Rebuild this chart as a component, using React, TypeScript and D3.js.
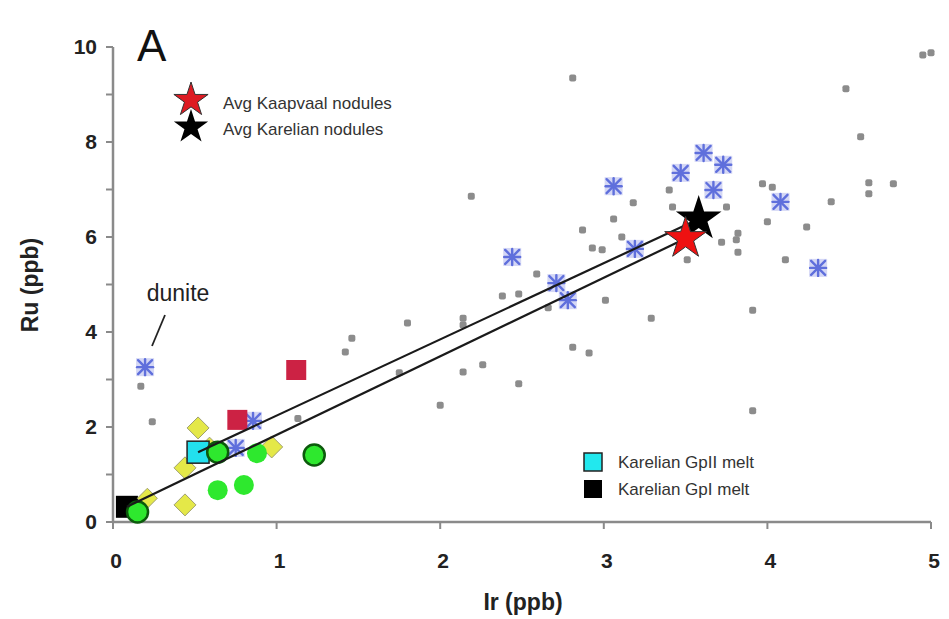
import React from "react";
import * as d3 from "d3";

const W = 949;
const H = 619;

const xTicks = [0, 1, 2, 3, 4, 5];
const yTicks = [0, 1, 2, 3, 4, 5, 6, 7, 8, 9, 10];
const yTickLabels = [0, 2, 4, 6, 8, 10];

const greyIr = [4.95, 5.0, 2.81, 4.48, 4.57, 4.77, 4.62, 4.62, 4.39, 4.24, 4.11, 3.91, 4.0, 3.97, 4.03, 3.82, 3.81, 3.82, 3.72, 3.75, 3.42, 3.40, 3.18, 3.06, 3.11, 2.87, 2.93, 2.99, 3.01, 3.29, 3.51, 2.19, 2.59, 2.38, 2.48, 2.66, 2.81, 2.91, 3.91, 1.80, 2.14, 2.14, 1.46, 1.42, 2.26, 2.14, 2.48, 1.75, 0.24, 0.17, 2.0, 1.13];
const greyRu = [9.83, 9.88, 9.35, 9.12, 8.11, 7.12, 7.14, 6.91, 6.74, 6.21, 5.52, 4.46, 6.32, 7.12, 7.05, 6.08, 5.94, 5.68, 5.89, 6.63, 6.63, 6.99, 6.72, 6.38, 6.0, 6.15, 5.77, 5.73, 4.67, 4.29, 5.52, 6.86, 5.22, 4.76, 4.80, 4.51, 3.68, 3.56, 2.34, 4.19, 4.29, 4.15, 3.87, 3.58, 3.31, 3.16, 2.91, 3.14, 2.11, 2.86, 2.46, 2.18];

const asteriskIr = [0.196, 0.856, 0.75, 2.44, 2.71, 2.78, 3.19, 3.06, 3.47, 3.61, 3.73, 3.67, 4.08, 4.31];
const asteriskRu = [3.26, 2.13, 1.56, 5.58, 5.03, 4.67, 5.75, 7.07, 7.35, 7.77, 7.52, 6.99, 6.74, 5.35];

const redSqIr = [1.12, 0.76];
const redSqRu = [3.2, 2.15];

const diamondIr = [0.52, 0.44, 0.21, 0.44, 0.97, 0.59];
const diamondRu = [1.98, 1.14, 0.5, 0.36, 1.58, 1.66];
const diamondSize = [22, 22, 20, 22, 22, 12];

const greenIr = [0.15, 0.64, 0.64, 0.8, 0.88, 1.23];
const greenRu = [0.21, 1.47, 0.67, 0.78, 1.45, 1.41];
const greenBorder = [true, true, false, false, false, true];

const gp2Melt = [0.52, 1.47];
const gp1Melt = [0.085, 0.32];
const kaapvaalStar = [3.5, 5.97];
const karelianStar = [3.58, 6.38];

const lineFrom = [gp2Melt, gp1Melt];
const lineTo = [karelianStar, kaapvaalStar];

const x = d3.scaleLinear().domain([0, 5]).range([113, 931]);
const y = d3.scaleLinear().domain([0, 10]).range([522, 47]);

const starPath = (R: number) =>
  d3.symbol().type(d3.symbolStar).size((R * R) / 0.8908130915292852)() as string;

const font = "'Liberation Sans', Arial, sans-serif";

function Asterisk({ cx, cy }: { cx: number; cy: number }) {
  const s = 9;
  return (
    <g transform={`translate(${cx},${cy})`}>
      <rect x={-s} y={-s} width={2 * s} height={2 * s} fill="#c5c9f2" opacity={0.75} />
      <g stroke="#5f6fdc" strokeWidth={2.4} strokeLinecap="round">
        <line x1={-7} y1={-7} x2={7} y2={7} />
        <line x1={-7} y1={7} x2={7} y2={-7} />
        <line x1={0} y1={-8} x2={0} y2={8} />
        <line x1={-8} y1={0} x2={8} y2={0} />
      </g>
    </g>
  );
}

export default function App() {
  const axisColor = "#8a8a8a";
  return (
    <svg
      width={W}
      height={H}
      style={{ position: "absolute", left: 0, top: 0, background: "#fff" }}
    >
      <rect width={W} height={H} fill="#fff" />
      {/* axes */}
      <line x1={x(0)} y1={y(0)} x2={x(5)} y2={y(0)} stroke={axisColor} strokeWidth={2.5} />
      <line x1={x(0)} y1={y(0)} x2={x(0)} y2={y(10)} stroke={axisColor} strokeWidth={2.5} />
      {xTicks.map((t) => (
        <g key={"xt" + t}>
          <line x1={x(t)} y1={y(0)} x2={x(t)} y2={y(0) + 7} stroke={axisColor} strokeWidth={2} />
          <text
            x={x(t) + 3}
            y={568}
            textAnchor="middle"
            fontFamily={font}
            fontWeight="bold"
            fontSize={21}
            fill="#222"
          >
            {t}
          </text>
        </g>
      ))}
      {yTicks.map((t) => (
        <line key={"yt" + t} x1={x(0) - 7} y1={y(t)} x2={x(0)} y2={y(t)} stroke={axisColor} strokeWidth={2} />
      ))}
      {yTickLabels.map((t) => (
        <text
          key={"yl" + t}
          x={97}
          y={y(t) + 7}
          textAnchor="end"
          fontFamily={font}
          fontWeight="bold"
          fontSize={21}
          fill="#222"
        >
          {t}
        </text>
      ))}
      <text
        x={523}
        y={610}
        textAnchor="middle"
        fontFamily={font}
        fontWeight="bold"
        fontSize={23}
        fill="#222"
      >
        Ir (ppb)
      </text>
      <text
        transform={`translate(38,${285}) rotate(-90)`}
        textAnchor="middle"
        fontFamily={font}
        fontWeight="bold"
        fontSize={23}
        fill="#222"
      >
        Ru (ppb)
      </text>
      <text x={137} y={61} fontFamily={font} fontSize={44} fill="#111">
        A
      </text>

      {/* grey dots */}
      {greyIr.map((v, i) => (
        <rect
          key={"g" + i}
          x={x(v) - 3.5}
          y={y(greyRu[i]) - 3.5}
          width={7}
          height={7}
          rx={2}
          fill="#8c8c8c"
        />
      ))}

      {/* asterisks */}
      {asteriskIr.map((v, i) => (
        <Asterisk key={"a" + i} cx={x(v)} cy={y(asteriskRu[i])} />
      ))}

      {/* red squares */}
      {redSqIr.map((v, i) => (
        <rect
          key={"r" + i}
          x={x(v) - 10}
          y={y(redSqRu[i]) - 10}
          width={20}
          height={20}
          fill="#cc2244"
        />
      ))}

      {/* black square GpI melt */}
      <rect x={x(gp1Melt[0]) - 11} y={y(gp1Melt[1]) - 11} width={22} height={22} fill="#000" />

      {/* diamonds */}
      {diamondIr.map((v, i) => {
        const s = diamondSize[i] / 2;
        const cx = x(v);
        const cy = y(diamondRu[i]);
        return (
          <path
            key={"d" + i}
            d={`M${cx},${cy - s}L${cx + s},${cy}L${cx},${cy + s}L${cx - s},${cy}Z`}
            fill="#e4e848"
            stroke="#a0a070"
            strokeWidth={1}
          />
        );
      })}

      {/* cyan square GpII melt */}
      <rect
        x={x(gp2Melt[0]) - 11}
        y={y(gp2Melt[1]) - 11}
        width={22}
        height={22}
        fill="#22e0ee"
        stroke="#222"
        strokeWidth={1.5}
      />

      {/* green circles */}
      {greenIr.map((v, i) => (
        <circle
          key={"c" + i}
          cx={x(v)}
          cy={y(greenRu[i])}
          r={greenBorder[i] ? 10.5 : 10}
          fill="#2ee82e"
          stroke={greenBorder[i] ? "#0c5a0c" : "none"}
          strokeWidth={2.5}
        />
      ))}

      {/* lines */}
      {lineFrom.map((p, i) => (
        <line
          key={"l" + i}
          x1={x(p[0])}
          y1={y(p[1])}
          x2={x(lineTo[i][0])}
          y2={y(lineTo[i][1])}
          stroke="#1a1a1a"
          strokeWidth={2.2}
        />
      ))}

      {/* stars */}
      <path
        d={starPath(24)}
        transform={`translate(${x(karelianStar[0])},${y(karelianStar[1])})`}
        fill="#000"
      />
      <path
        d={starPath(22)}
        transform={`translate(${x(kaapvaalStar[0])},${y(kaapvaalStar[1])})`}
        fill="#ee1111"
        stroke="#333"
        strokeWidth={1}
      />

      {/* dunite annotation */}
      <text x={178} y={301} textAnchor="middle" fontFamily={font} fontSize={23} fill="#222">
        dunite
      </text>
      <line x1={165} y1={315} x2={152} y2={346} stroke="#222" strokeWidth={1.8} />

      {/* top legend */}
      <path d={starPath(18)} transform="translate(191,100)" fill="#dd1a22" stroke="#333" strokeWidth={1} />
      <path d={starPath(18)} transform="translate(191,127)" fill="#000" />
      <text x={223} y={109} fontFamily={font} fontSize={17} fill="#333">
        Avg Kaapvaal nodules
      </text>
      <text x={223} y={135} fontFamily={font} fontSize={17} fill="#333">
        Avg Karelian nodules
      </text>

      {/* bottom legend */}
      <rect x={584} y={453} width={18} height={18} fill="#22e8ee" stroke="#222" strokeWidth={1.5} />
      <rect x={584} y={480} width={18} height={18} fill="#000" />
      <text x={618} y={468} fontFamily={font} fontSize={17} fill="#333">
        Karelian GpII melt
      </text>
      <text x={618} y={495} fontFamily={font} fontSize={17} fill="#333">
        Karelian GpI melt
      </text>
    </svg>
  );
}
